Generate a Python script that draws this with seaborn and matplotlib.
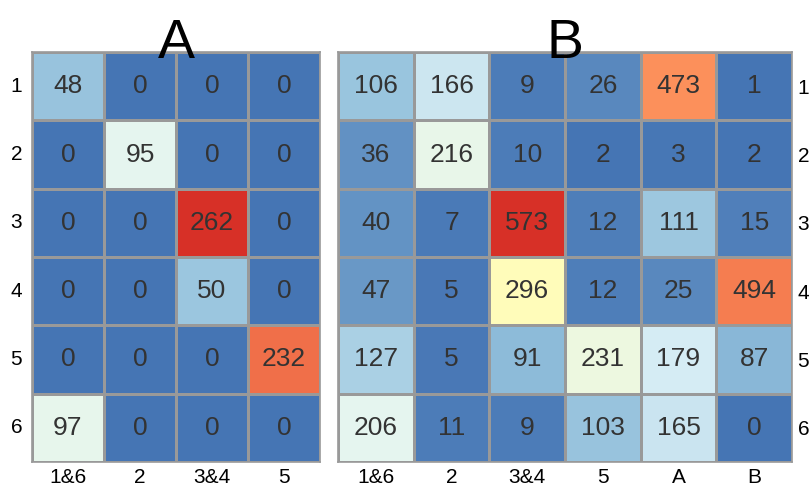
import numpy as np
import pandas as pd
import matplotlib
matplotlib.use("Agg")
import matplotlib.pyplot as plt
from matplotlib.colors import LinearSegmentedColormap
import seaborn as sns

rows = ["1", "2", "3", "4", "5", "6"]
cols_a = ["1&6", "2", "3&4", "5"]
cols_b = ["1&6", "2", "3&4", "5", "A", "B"]

values_a = [
    [48, 0, 0, 0],
    [0, 95, 0, 0],
    [0, 0, 262, 0],
    [0, 0, 50, 0],
    [0, 0, 0, 232],
    [97, 0, 0, 0],
]
values_b = [
    [106, 166, 9, 26, 473, 1],
    [36, 216, 10, 2, 3, 2],
    [40, 7, 573, 12, 111, 15],
    [47, 5, 296, 12, 25, 494],
    [127, 5, 91, 231, 179, 87],
    [206, 11, 9, 103, 165, 0],
]

df_a = pd.DataFrame(values_a, index=rows, columns=cols_a)
df_b = pd.DataFrame(values_b, index=rows, columns=cols_b)

sns.set_theme(style="white")
plt.rcParams["font.family"] = ["Liberation Sans", "DejaVu Sans"]

cmap = LinearSegmentedColormap.from_list(
    "rdylbu7",
    ["#4575b4", "#91bfdb", "#e0f3f8", "#ffffbf", "#fee090", "#fc8d59", "#d73027"],
)

fig = plt.figure(figsize=(8.09, 4.88), dpi=100)
ax_a = fig.add_axes([32 / 809, 1 - 462 / 488, 288 / 809, 410 / 488])
ax_b = fig.add_axes([338 / 809, 1 - 462 / 488, 454 / 809, 410 / 488])

grid = "#999999"
for ax, df, title in [(ax_a, df_a, "A"), (ax_b, df_b, "B")]:
    sns.heatmap(
        df, ax=ax, cmap=cmap, vmin=0, vmax=df.values.max(),
        annot=True, fmt="d", cbar=False,
        linewidths=1, linecolor=grid,
        annot_kws={"fontsize": 19, "color": "#333333"},
    )
    ax.set_title(title, fontsize=40, pad=-4, color="black")
    ax.set_xlabel("")
    ax.set_ylabel("")
    for s in ax.spines.values():
        s.set_visible(True)
        s.set_color(grid)
        s.set_linewidth(1.2)
    ax.tick_params(length=0, labelsize=15, colors="black")
    ax.tick_params(axis="x", pad=4)
    ax.set_xticklabels(ax.get_xticklabels(), rotation=0)
    ax.set_yticklabels(ax.get_yticklabels(), rotation=0)

ax_a.tick_params(axis="y", pad=7)
ax_b.yaxis.tick_right()
ax_b.tick_params(axis="y", pad=4)
ax_b.set_yticklabels(rows, rotation=0)

fig.savefig("out.png", dpi=100)
